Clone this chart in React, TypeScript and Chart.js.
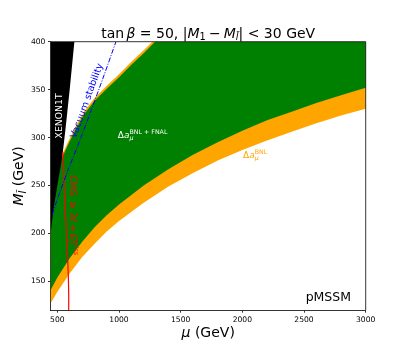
import React, { useEffect, useRef } from "react";
import { Chart, registerables } from "chart.js";

Chart.register(...registerables);

// ---- axes ----
const X_TICKS = [500, 1000, 1500, 2000, 2500, 3000];
const Y_TICKS = [150, 200, 250, 300, 350, 400];
const MU_MIN = 446;
const MU_MAX = 3000;
const M_MIN = 120;
const M_MAX = 400;

// ---- lower edges of the bands ----
const MU_LOW = [446, 500, 600, 700, 800, 900, 1000, 1200, 1400, 1600, 1800, 2000, 2200, 2400, 2600, 2800, 3000];
const BNL_LOW = [127, 139, 158, 175, 189, 202, 213, 232, 249, 263, 276, 287, 297, 306, 315, 323, 330];
const BNLFNAL_LOW = [141, 154, 174, 191, 206, 219, 230, 250, 267, 282, 295, 307, 318, 327, 336, 344, 352];

// ---- upper (left) edges of the bands ----
const MU_UP_BNL = [446, 500, 546, 592, 654, 722, 800, 900, 1000, 1100, 1200, 1270];
const BNL_UP = [250, 268, 284, 297, 313, 328, 341, 354, 366, 379, 391, 400];
const MU_UP_BNLFNAL = [446, 500, 546, 592, 654, 722, 800, 900, 1000, 1100, 1200, 1292];
const BNLFNAL_UP = [247, 265, 281, 294, 310, 325, 338, 351, 363, 376, 388, 400];

// ---- XENON1T excluded region (right edge) ----
const MU_XENON = [446, 468, 500, 540, 567, 600, 638];
const M_XENON = [200, 225, 250, 280, 310, 350, 400];

// ---- vacuum stability line ----
const MU_VAC = [460, 506, 587, 682, 776, 870, 975];
const M_VAC = [220, 238, 266, 297, 329, 362, 400];

// ---- CMS 3l + MET line ----
const MU_CMS = [544, 552, 558, 568, 576, 583, 589, 592, 592];
const M_CMS = [285, 265, 240, 215, 195, 175, 155, 135, 120];

// ---- annotation anchors (data units) ----
const XENON_LABEL = { mu: 538, m: 299 };
const VAC_LABEL = { mu: 631, m: 299.5 };
const FNAL_LABEL = { mu: 990, m: 300 };
const BNL_LABEL = { mu: 2005, m: 279 };
const CMS_LABEL = { mu: 603, m: 261 };
const PMSSM_LABEL = { mu: 2881, m: 129.4 };

const FAM = "'DejaVu Sans', sans-serif";
const ORANGE = "#FFA500";
const GREEN = "#008000";

type Run = { t: string; size: number; it?: boolean; dy?: number; adv?: boolean; w?: number };

function fnt(size: number, it?: boolean) {
  return `${it ? "italic " : ""}${size}px ${FAM}`;
}
function runsWidth(ctx: CanvasRenderingContext2D, runs: Run[]) {
  let w = 0;
  for (const r of runs) {
    if (r.w !== undefined) { w += r.w; continue; }
    ctx.font = fnt(r.size, r.it);
    if (r.adv !== false) w += ctx.measureText(r.t).width;
  }
  return w;
}
function drawRuns(ctx: CanvasRenderingContext2D, runs: Run[], x: number, y: number) {
  let cx = x;
  for (const r of runs) {
    if (r.w !== undefined) { cx += r.w; continue; }
    ctx.font = fnt(r.size, r.it);
    ctx.fillText(r.t, cx, y + (r.dy || 0));
    if (r.adv !== false) cx += ctx.measureText(r.t).width;
  }
}

const pts = (xs: number[], ys: number[]) => xs.map((x, i) => ({ x, y: ys[i] }));

const annotations = {
  id: "annotations",
  afterDraw(chart: any) {
    const { ctx, chartArea: a, scales } = chart;
    const X = (v: number) => scales.x.getPixelForValue(v);
    const Y = (v: number) => scales.y.getPixelForValue(v);
    ctx.save();
    // top & right spines
    ctx.strokeStyle = "#000";
    ctx.lineWidth = 0.8;
    ctx.beginPath();
    ctx.moveTo(a.left, a.top);
    ctx.lineTo(a.right, a.top);
    ctx.lineTo(a.right, a.bottom);
    ctx.stroke();

    ctx.textAlign = "left";
    ctx.textBaseline = "alphabetic";

    // title
    const T = 14, S = 9.8;
    const title: Run[] = [
      { t: "tan", size: T }, { t: "", size: T, w: 2.3 }, { t: "β", size: T, it: true },
      { t: " = 50, ", size: T },
      { t: "|", size: T }, { t: "M", size: T, it: true }, { t: "1", size: S, dy: 2.9 },
      { t: "", size: T, w: 3.1 }, { t: "−", size: T }, { t: "", size: T, w: 3.1 },
      { t: "M", size: T, it: true }, { t: "l\u0303", size: S, it: true, dy: 2.9 },
      { t: "|", size: T }, { t: " < 30 GeV", size: T },
    ];
    ctx.fillStyle = "#000";
    const cxm = (a.left + a.right) / 2;
    drawRuns(ctx, title, cxm - runsWidth(ctx, title) / 2, 37.5);

    // x label
    const xl: Run[] = [{ t: "μ", size: 14, it: true }, { t: " (GeV)", size: 14 }];
    drawRuns(ctx, xl, cxm - runsWidth(ctx, xl) / 2, 337);

    // y label
    const yl: Run[] = [
      { t: "M", size: 14, it: true }, { t: "l\u0303", size: 9.8, it: true, dy: 2.9 },
      { t: " (GeV)", size: 14 },
    ];
    ctx.save();
    ctx.translate(23, (a.top + a.bottom) / 2);
    ctx.rotate(-Math.PI / 2);
    drawRuns(ctx, yl, -runsWidth(ctx, yl) / 2, 0);
    ctx.restore();

    // clip annotations inside plotting area
    ctx.save();
    ctx.beginPath();
    ctx.rect(a.left, a.top, a.right - a.left, a.bottom - a.top);
    ctx.clip();

    // XENON1T
    ctx.save();
    ctx.fillStyle = "#fff";
    ctx.translate(X(XENON_LABEL.mu), Y(XENON_LABEL.m));
    ctx.rotate(-Math.PI / 2);
    drawRuns(ctx, [{ t: "XENON1T", size: 9.3 }], 0, 0);
    ctx.restore();

    // Vacuum stability
    ctx.save();
    ctx.fillStyle = "#0000ff";
    ctx.textBaseline = "middle";
    ctx.translate(X(VAC_LABEL.mu), Y(VAC_LABEL.m));
    ctx.rotate((-70 * Math.PI) / 180);
    drawRuns(ctx, [{ t: "Vacuum stability", size: 9.5 }], 0, 0);
    ctx.restore();

    // Delta a_mu BNL + FNAL
    ctx.fillStyle = "#fff";
    drawRuns(ctx, [
      { t: "Δ", size: 9 }, { t: "a", size: 9, it: true },
      { t: "μ", size: 6.3, it: true, dy: 2, adv: false },
      { t: "BNL + FNAL", size: 6.3, dy: -3.6 },
    ], X(FNAL_LABEL.mu), Y(FNAL_LABEL.m));

    // Delta a_mu BNL
    ctx.fillStyle = ORANGE;
    drawRuns(ctx, [
      { t: "Δ", size: 9 }, { t: "a", size: 9, it: true },
      { t: "μ", size: 6.3, it: true, dy: 2, adv: false },
      { t: "BNL", size: 6.3, dy: -3.6 },
    ], X(BNL_LABEL.mu), Y(BNL_LABEL.m));

    // CMS
    ctx.save();
    ctx.fillStyle = "#ff0000";
    ctx.translate(X(CMS_LABEL.mu), Y(CMS_LABEL.m));
    ctx.rotate(Math.PI / 2);
    const C = 9.5, CS = 6.6;
    drawRuns(ctx, [
      { t: "CMS ", size: C }, { t: "", size: C, w: 2.6 }, { t: "≥", size: C }, { t: "", size: C, w: 2.6 },
      { t: "3", size: C }, { t: "ℓ", size: C }, { t: "", size: C, w: 2.1 }, { t: "+", size: C },
      { t: "", size: C, w: 2.1 }, { t: "E", size: C, it: true },
      { t: "T", size: CS, it: true, dy: 2, adv: false }, { t: "miss", size: CS, dy: -3.8 },
    ], 0, 0);
    ctx.restore();

    // pMSSM
    ctx.fillStyle = "#000";
    ctx.textAlign = "right";
    drawRuns(ctx, [{ t: "pMSSM", size: 12.5 }], X(PMSSM_LABEL.mu), Y(PMSSM_LABEL.m));
    ctx.restore();

    ctx.restore();
  },
};

export default function App() {
  const ref = useRef<HTMLCanvasElement>(null);
  useEffect(() => {
    document.body.style.margin = "0";
    const orangePoly = [...pts(MU_LOW, BNL_LOW), { x: MU_MAX, y: M_MAX }, ...pts(MU_UP_BNL, BNL_UP).reverse()];
    const greenPoly = [...pts(MU_LOW, BNLFNAL_LOW), { x: MU_MAX, y: M_MAX }, ...pts(MU_UP_BNLFNAL, BNLFNAL_UP).reverse()];
    const xenonPoly = [...pts(MU_XENON, M_XENON), { x: MU_MIN, y: M_MAX }];
    const fillDs = (data: any[], color: string, order: number) => ({
      data, fill: "shape", backgroundColor: color, borderColor: "rgba(0,0,0,0)", borderWidth: 0,
      pointRadius: 0, tension: 0, order,
    });
    const tickFont = { family: FAM, size: 7.6 };
    const chart = new Chart(ref.current!, {
      type: "line",
      data: {
        datasets: [
          fillDs(orangePoly, ORANGE, 5),
          fillDs(greenPoly, GREEN, 4),
          fillDs(xenonPoly, "#000000", 3),
          {
            data: pts(MU_CMS, M_CMS), borderColor: "#ff0000", borderWidth: 1.2, fill: false,
            pointRadius: 0, tension: 0.3, order: 2,
          },
          {
            data: pts(MU_VAC, M_VAC), borderColor: "#0000ff", borderWidth: 1, fill: false,
            pointRadius: 0, tension: 0.3, borderDash: [5, 1.5, 1, 1.5], order: 1,
          },
        ] as any,
      },
      options: {
        responsive: false,
        animation: false,
        devicePixelRatio: 1,
        layout: { padding: { left: 0, right: 41.3, top: 41.7, bottom: 0 } },
        plugins: { legend: { display: false }, tooltip: { enabled: false }, title: { display: false } },
        scales: {
          x: {
            type: "linear", min: MU_MIN, max: MU_MAX,
            afterBuildTicks: (s: any) => { s.ticks = X_TICKS.map((v) => ({ value: v })); },
            afterFit: (s: any) => { s.height = 39; },
            ticks: { font: tickFont, color: "#000", padding: 2.6, maxRotation: 0, autoSkip: false, callback: (v: any) => String(v) },
            grid: { drawOnChartArea: false, drawTicks: true, tickLength: 2.7, tickWidth: 0.8, tickColor: "#000" },
            border: { display: true, color: "#000", width: 0.8 },
          },
          y: {
            type: "linear", min: M_MIN, max: M_MAX,
            afterBuildTicks: (s: any) => { s.ticks = Y_TICKS.map((v) => ({ value: v })); },
            afterFit: (s: any) => { s.width = 50.7; },
            ticks: { font: tickFont, color: "#000", padding: 2.6, autoSkip: false, callback: (v: any) => String(v) },
            grid: { drawOnChartArea: false, drawTicks: true, tickLength: 2.7, tickWidth: 0.8, tickColor: "#000" },
            border: { display: true, color: "#000", width: 0.8 },
          },
        },
      } as any,
      plugins: [annotations],
    });
    return () => chart.destroy();
  }, []);
  return <canvas ref={ref} width={407} height={349} style={{ display: "block", width: 407, height: 349 }} />;
}
